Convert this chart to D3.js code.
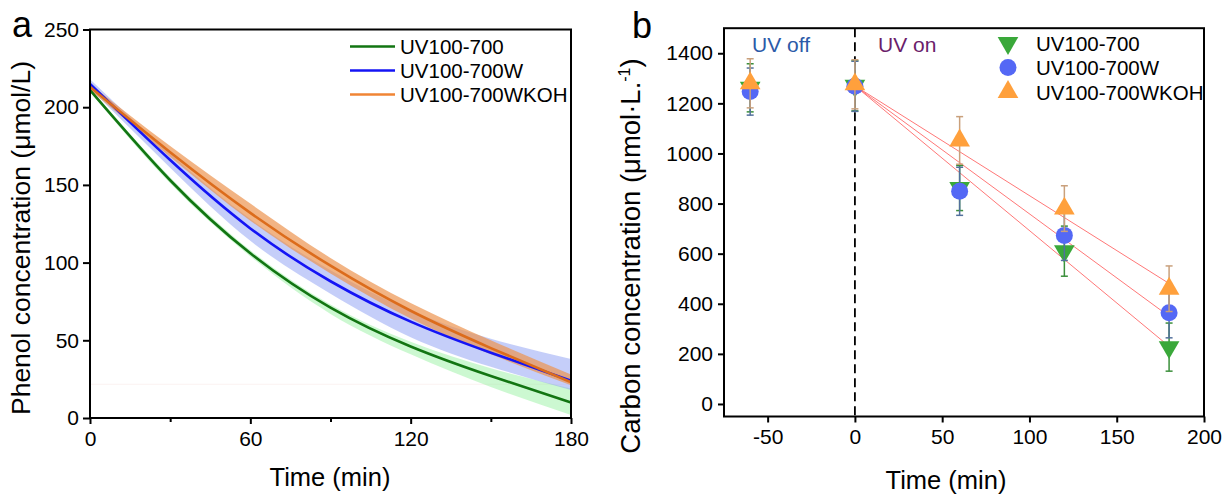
<!DOCTYPE html>
<html><head><meta charset="utf-8">
<script src="https://cdn.jsdelivr.net/npm/d3@7"></script>
<style>
html,body{margin:0;padding:0;background:#fff;}
svg text{font-family:"Liberation Sans",Arial,sans-serif;fill:#000;}
</style></head>
<body>
<svg id="chart" width="1226" height="495"></svg>
<script>
// ---------- Panel a data ----------
const seriesNames = ["UV100-700", "UV100-700W", "UV100-700WKOH"];
const phenolTime = [0, 30, 60, 90, 120, 150, 180];
const phenolGreen = [211, 153, 106, 71, 46, 27, 10];
const phenolBlue = [215, 166, 122, 88, 62, 42, 24];
const phenolOrange = [213, 171, 132, 98, 69, 45, 23];
const bandGreenLo = [210, 151, 104, 67, 41, 20, 2];
const bandGreenHi = [212, 155, 108, 73, 49, 32, 19];
const bandBlueLo = [212, 161, 114, 80, 52, 33, 18];
const bandBlueHi = [218, 170, 128, 95, 69, 51, 38];
const bandOrangeLo = [211, 168, 127, 93, 64, 41, 21];
const bandOrangeHi = [215, 175, 138, 103, 74, 50, 28];
const faintLevel = 21.7;
const phenolXTicks = [0, 60, 120, 180];
const phenolXMinor = [30, 90, 150];
const phenolYTicks = [0, 50, 100, 150, 200, 250];

// ---------- Panel b data ----------
const tocTime = [-60, 0, 60, 120, 180];
const tocGreen = [1262, 1270, 862, 610, 227];
const tocGreenErr = [96, 100, 90, 100, 96];
const tocBlue = [1247, 1268, 849, 673, 364];
const tocBlueErr = [94, 100, 96, 100, 100];
const tocOrange = [1280, 1276, 1052, 780, 460];
const tocOrangeErr = [98, 98, 95, 91, 91];
const fitTime = [0, 180];
const fitGreen = [1270, 230];
const fitBlue = [1270, 350];
const fitOrange = [1270, 481];
const tocXTicks = [-50, 0, 50, 100, 150, 200];
const tocYTicks = [0, 200, 400, 600, 800, 1000, 1200, 1400];

const svg = d3.select("#chart");
const FS_TICK = 21, FS_LEG = 20.5, FS_TITLE = 25.5;
const plainFmt = d => String(d);

// ================= Panel a =================
const ax = d3.scaleLinear().domain([0, 180]).range([90, 571]);
const ay = d3.scaleLinear().domain([0, 250]).range([418, 29.5]);
const ga = svg.append("g");

const bandGen = (lo, hi) => d3.area()
  .x((d, i) => ax(phenolTime[i]))
  .y0((d, i) => ay(lo[i]))
  .y1((d, i) => ay(hi[i]))
  .curve(d3.curveNatural)(phenolTime);
const lineGen = vals => d3.line()
  .x((d, i) => ax(phenolTime[i]))
  .y((d, i) => ay(vals[i]))
  .curve(d3.curveNatural)(phenolTime);

// faint level line
ga.append("line").attr("x1", ax(0)).attr("x2", ax(180))
  .attr("y1", ay(faintLevel)).attr("y2", ay(faintLevel))
  .attr("stroke", "#fbf3f1").attr("stroke-width", 1);

ga.append("path").attr("d", bandGen(bandGreenLo, bandGreenHi)).attr("fill", "#8ff09a").attr("opacity", 0.45);
ga.append("path").attr("d", bandGen(bandBlueLo, bandBlueHi)).attr("fill", "#8c9ef4").attr("opacity", 0.5);
ga.append("path").attr("d", bandGen(bandOrangeLo, bandOrangeHi)).attr("fill", "#ec9450").attr("opacity", 0.7);

const aColors = ["#127512", "#1414f5", "#dc6c1c"];
[phenolGreen, phenolBlue, phenolOrange].forEach((v, k) => {
  ga.append("path").attr("d", lineGen(v)).attr("fill", "none")
    .attr("stroke", aColors[k]).attr("stroke-width", 2.6);
});

// axes a
const axA = ga.append("g").attr("transform", "translate(0,418)")
  .call(d3.axisBottom(ax).tickValues(phenolXTicks).tickFormat(plainFmt).tickSize(6).tickPadding(7).tickSizeOuter(0));
const axAm = ga.append("g").attr("transform", "translate(0,418)")
  .call(d3.axisBottom(ax).tickValues(phenolXMinor).tickSize(4).tickFormat("").tickSizeOuter(0));
const ayA = ga.append("g").attr("transform", "translate(90,0)")
  .call(d3.axisLeft(ay).tickValues(phenolYTicks).tickFormat(plainFmt).tickSize(7).tickPadding(4).tickSizeOuter(0));
[axA, axAm, ayA].forEach(g => {
  g.select(".domain").remove();
  g.selectAll("line").attr("stroke", "#000").attr("stroke-width", 2);
  g.selectAll("text").attr("font-size", FS_TICK).attr("font-family", "Liberation Sans, Arial, sans-serif").attr("fill", "#000");
});
ga.append("rect").attr("x", 90).attr("y", 29.5).attr("width", 481).attr("height", 388.5)
  .attr("fill", "none").attr("stroke", "#000").attr("stroke-width", 2);

ga.append("text").attr("x", 330).attr("y", 486).attr("text-anchor", "middle")
  .attr("font-size", FS_TITLE).text("Time (min)");
ga.append("text").attr("transform", "translate(30,238) rotate(-90)").attr("text-anchor", "middle")
  .attr("font-size", 26.5).text("Phenol concentration (μmol/L)");
ga.append("text").attr("x", 12).attr("y", 37).attr("font-size", 36).text("a");

// legend a
seriesNames.forEach((n, k) => {
  const yy = 46.5 + k * 24;
  ga.append("line").attr("x1", 350).attr("x2", 395).attr("y1", yy).attr("y2", yy)
    .attr("stroke", k === 2 ? "#f08534" : aColors[k]).attr("stroke-width", 2.6);
  ga.append("text").attr("x", 400).attr("y", yy + 7.5).attr("font-size", FS_LEG).text(n);
});

// ================= Panel b =================
const bx = d3.scaleLinear().domain([-75, 200]).range([724, 1204]);
const by = d3.scaleLinear().domain([-50, 1500]).range([416.5, 28.2]);
const gb = svg.append("g");

// dashed UV line
gb.append("line").attr("x1", bx(0)).attr("x2", bx(0)).attr("y1", by(1500)).attr("y2", by(-50))
  .attr("stroke", "#000").attr("stroke-width", 1.8).attr("stroke-dasharray", "9,5");

gb.append("text").attr("x", 752).attr("y", 52).attr("font-size", 21).style("fill", "#2c5aa8").text("UV off");
gb.append("text").attr("x", 878).attr("y", 52).attr("font-size", 21).style("fill", "#6b1d6b").text("UV on");

// fit lines
[fitGreen, fitBlue, fitOrange].forEach(v => {
  gb.append("line").attr("x1", bx(fitTime[0])).attr("y1", by(v[0]))
    .attr("x2", bx(fitTime[1])).attr("y2", by(v[1]))
    .attr("stroke", "#ff4a4a").attr("stroke-opacity", 0.75).attr("stroke-width", 1);
});

const bSeries = [
  {vals: tocGreen, err: tocGreenErr, fill: "#3aa83a", bar: "#3b8f3b", shape: "down"},
  {vals: tocBlue, err: tocBlueErr, fill: "#5468f5", bar: "#52709c", shape: "circle"},
  {vals: tocOrange, err: tocOrangeErr, fill: "#ffa03c", bar: "#c9a07c", shape: "up"}
];
const triUp = d3.symbol().type(d3.symbolTriangle).size(185);
function drawMarker(g, shape, fill, cx, cy) {
  if (shape === "circle") {
    g.append("circle").attr("cx", cx).attr("cy", cy).attr("r", 8.5).attr("fill", fill);
  } else {
    g.append("path").attr("d", triUp())
      .attr("transform", `translate(${cx},${cy}) ${shape === "down" ? "rotate(180)" : ""}`)
      .attr("fill", fill);
  }
}
bSeries.forEach(s => {
  const g = gb.append("g");
  tocTime.forEach((t, i) => {
    const x = bx(t), y1 = by(s.vals[i] + s.err[i]), y0 = by(s.vals[i] - s.err[i]);
    g.append("line").attr("x1", x).attr("x2", x).attr("y1", y1).attr("y2", y0).attr("stroke", s.bar).attr("stroke-width", 1.5);
    [y0, y1].forEach(yy => g.append("line").attr("x1", x - 3.5).attr("x2", x + 3.5).attr("y1", yy).attr("y2", yy)
      .attr("stroke", s.bar).attr("stroke-width", 1.5));
    drawMarker(g, s.shape, s.fill, x, by(s.vals[i]));
  });
});

// axes b
const axB = gb.append("g").attr("transform", "translate(0,416.5)")
  .call(d3.axisBottom(bx).tickValues(tocXTicks).tickFormat(plainFmt).tickSize(6).tickPadding(7).tickSizeOuter(0));
const ayB = gb.append("g").attr("transform", "translate(724,0)")
  .call(d3.axisLeft(by).tickValues(tocYTicks).tickFormat(plainFmt).tickSize(6).tickPadding(5).tickSizeOuter(0));
[axB, ayB].forEach(g => {
  g.select(".domain").remove();
  g.selectAll("line").attr("stroke", "#000").attr("stroke-width", 2);
  g.selectAll("text").attr("font-size", FS_TICK).attr("font-family", "Liberation Sans, Arial, sans-serif").attr("fill", "#000");
});
gb.append("rect").attr("x", 724).attr("y", 28.2).attr("width", 480).attr("height", 388.3)
  .attr("fill", "none").attr("stroke", "#000").attr("stroke-width", 2);

gb.append("text").attr("x", 946).attr("y", 489).attr("text-anchor", "middle")
  .attr("font-size", FS_TITLE).text("Time (min)");
const yt = gb.append("text").attr("transform", "translate(640,256) rotate(-90)").attr("text-anchor", "middle")
  .attr("font-size", 27.5);
yt.append("tspan").text("Carbon concentration (μmol·L.");
yt.append("tspan").attr("dy", -10).attr("font-size", 16).text("-1");
yt.append("tspan").attr("dy", 10).text(")");
gb.append("text").attr("x", 632).attr("y", 38).attr("font-size", 36).text("b");

// legend b
bSeries.forEach((s, k) => {
  const yy = 43 + k * 24.5;
  drawMarker(gb, s.shape, s.fill, 1008, yy);
  gb.append("text").attr("x", 1036).attr("y", yy + 7.5).attr("font-size", FS_LEG).text(seriesNames[k]);
});
</script>
</body></html>
